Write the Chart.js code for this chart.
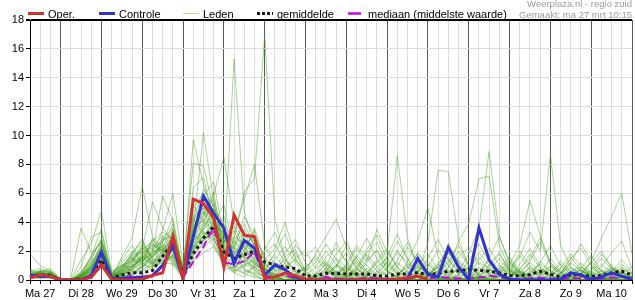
<!DOCTYPE html>
<html><head><meta charset="utf-8">
<script src="https://cdn.jsdelivr.net/npm/chart.js@4.4.1/dist/chart.umd.min.js"></script>
<style>html,body{margin:0;padding:0;background:#fff}#wrap{position:relative;width:635px;height:300px}</style>
</head><body><div id="wrap"><canvas id="c"></canvas></div>
<script>
// Day names (tick labels), one per calendar day; series start Ma 27 06:00, 6-hourly
const dayNames = ['Ma 27','Di 28','Wo 29','Do 30','Vr 31','Za 1','Zo 2','Ma 3','Di 4','Wo 5','Do 6','Vr 7','Za 8','Zo 9','Ma 10','Di 11'];
const hourSteps = ['00','06','12','18'];
const yTickValues = [0,2,4,6,8,10,12,14,16,18];

const oper = [0.15,0.35,0.25, 0.02,0,0,0.2, 1.05,0.05,0,0, 0.05,0.3,0.5,3.05, 0.05,5.6,5.3,4.3, 0.9,4.5,3.1,3.0, 0.1,0.2,0.5,0.3, 0.05,0,0,0, 0,0,0,0, 0,0.05,0.15,0.25, 0.05,null,null,null, null,null,null,null, null,null,null,null, null,null,null,null, null,null,null,null, null];
const controle = [0.35,0.25,0.25, 0.02,0,0,0.3, 1.95,0.1,0.1,0.15, 0.2,0.3,1.0,2.4, 0.1,3.0,5.8,4.6, 3.6,1.15,2.75,2.2, 0.35,1.05,0.7,0.2, 0,0,0,0, 0,0,0,0, 0,0.05,0.1,1.5, 0.4,0.2,2.25,0.9, 0.05,3.6,1.4,0.4, 0.05,0,0,0, 0,0.05,0.5,0.35, 0.05,0.2,0.5,0.25, 0.05];
const gemiddelde = [0.25,0.35,0.3, 0.02,0,0.05,0.25, 1.4,0.1,0.35,0.5, 0.5,0.65,1.65,2.5, 0.4,1.8,2.9,3.7, 1.95,1.5,1.75,2.0, 1.25,1.05,0.9,0.8, 0.27,0.27,0.47,0.45, 0.42,0.42,0.42,0.3, 0.27,0.42,0.42,0.5, 0.4,0.45,0.6,0.62, 0.72,0.68,0.6,0.5, 0.3,0.3,0.38,0.6, 0.4,0.2,0.38,0.35, 0.25,0.32,0.48,0.62, 0.35];
const mediaan = [0.15,0.3,0.2, 0,0,0,0.15, 1.0,0.05,0.1,0.3, 0.15,0.25,1.05,2.3, 0.2,1.25,2.3,3.6, 1.2,1.1,1.3,1.95, 0.2,0.3,0.35,0.1, 0,0,0.2,0.1, 0.05,0.05,0.15,0.1, 0.05,0.05,0.1,0.2, 0.1,0.2,0.15,0.1, 0.1,0.15,0.3,0.2, 0.05,0.05,0.1,0.15, 0.1,0.05,0.15,0.1, 0.05,0.1,0.15,0.2, 0.1];

const lid01 = [0.3,0.5,0.4, 0,0,0.2,0.8, 2.1,0.2,0.4,0.9, 1.5,2.2,3.1,2.4, 0.3,4.1,5.2,3.8, 2.2,1.4,2.6,1.8, 0.9,1.2,0.6,0.3, 0,0.2,0.8,0.4, 0.1,0,0.3,0.2, 0,0.4,0.9,0.5, 0.2,0.6,0.3,0.1, 0.5,1.2,0.8,0.3, 0,0.2,0.6,0.3, 0.1,0,0.4,0.2, 0,0.3,0.8,0.5, 0.2];
const lid02 = [1.8,1.0,0.6, 0,0,0,0.3, 1.2,0.1,0.6,1.4, 2.0,1.1,1.8,3.2, 0.8,2.8,4.5,5.6, 3.1,2.0,1.2,0.9, 0.4,0.2,0,0, 0,0,0.3,1.1, 0.6,0.2,0,0, 0,0,0.2,0.6, 1.1,0.4,0,0, 0,0.3,0.9,1.8, 0.7,0.2,0,0, 0,0.5,1.2,0.6, 0.2,0,0,0.3, 0.1];
const lid03 = [0.4,0.7,0.5, 0,0.1,3.6,1.9, 2.6,0.3,0.2,0.5, 0.9,1.6,2.4,1.7, 0.1,3.3,4.4,6.1, 1.8,0.6,2.1,3.4, 1.2,0.4,0.2,0, 0,0,0,0.2, 0.5,1.3,0.4,0, 0,0,0,0.3, 0.6,0.2,0,0.4, 1.0,0.3,0,0, 0,0,0.3,0.8, 0.4,0,0,0, 0.2,0.6,0.3,0, 0];
const lid04 = [0.2,0.4,0.3, 0,0,0.9,3.0, 3.3,0.4,1.1,0.6, 0.4,0.8,2.9,3.6, 0.5,6.4,7.1,4.2, 0.7,0.9,3.5,2.4, 0.3,0.8,1.4,0.6, 0,0.4,1.6,2.2, 1.3,0.5,0.1,0, 0,0.2,0.7,1.9, 0.8,0.3,0.1,0, 0,0,0.2,0.5, 0.9,0.4,0,0, 0,0,0.1,0.4, 1.3,0.6,0.2,0, 0];
const lid05 = [0.1,0.3,0.2, 0,0,1.4,2.5, 4.8,0.5,0.3,0.2, 1.1,2.8,1.9,1.2, 0.2,2.4,3.6,4.9, 3.9,2.8,1.6,0.8, 0.2,0,0,0.4, 0.9,0.3,0,0, 0,0.6,1.8,0.9, 0.3,0,0,0, 0.2,1.0,2.3,1.2, 0.4,0.1,0,0, 0.3,0.8,0.2,0, 0,0.4,1.6,0.7, 0.2,0,0,0, 0];
const lid06 = [0.5,0.6,0.8, 0.1,0,0.5,1.6, 3.6,0.2,0.8,1.9, 2.7,1.4,0.9,2.1, 0.6,3.9,6.3,5.1, 2.6,3.4,1.9,1.1, 0.6,1.9,3.2,1.4, 0.5,0.1,0,0, 0,0,0.4,1.2, 2.0,0.9,0.3,0, 0,0.2,0,0, 0.3,0.9,0.4,0.1, 0,0,0.5,1.1, 0.6,0.2,0,0, 0,0,0.3,0.9, 0.4];
const lid07 = [0.2,0.2,0.4, 0,0,0.2,0.6, 1.5,0.1,1.6,2.9, 6.5,3.0,2.2,1.0, 0.1,1.9,2.8,3.3, 4.4,1.6,0.9,2.6, 0.5,0.2,0,0, 0,0,0,0, 0.2,0.7,2.1,3.1, 1.4,0.3,0,0, 0,0,0.3,0.8, 0.4,0,0,0.6, 1.4,0.5,0,0, 0,0,0.2,0.4, 0.9,0.3,0,0, 0];
const lid08 = [0.6,0.4,0.3, 0,0,0,0.4, 2.4,0.3,0.5,1.2, 2.2,5.4,3.6,2.7, 0.9,5.2,4.0,2.9, 1.3,0.5,0.2,1.0, 2.1,3.3,1.5,0.6, 0.1,0,0,0.5, 1.0,0.4,0,0, 0,0,0,0, 0.3,0.9,1.6,0.7, 0.2,0,0,0, 0,0.4,1.3,2.6, 1.1,0.3,0,0, 0,0.2,0.7,0.3, 0];
const lid09 = [0.3,0.2,0.6, 0,0,0.3,1.1, 1.8,0.2,0.4,0.7, 1.3,2.0,5.8,4.1, 0.3,2.2,3.1,3.9, 5.2,2.1,4.4,3.0, 1.6,0.7,0.3,0, 0,0,0.2,0.9, 2.4,1.5,0.6,0.2, 0,0.3,1.1,0.5, 0,0,0,0.2, 0.6,1.9,1.0,0.3, 0,0,0,0.3, 0.7,0.2,0,0.5, 1.2,0.4,0,0, 0];
const lid10 = [0.1,0.5,0.7, 0,0,0.6,1.4, 2.9,0.6,0.9,1.5, 0.8,1.9,3.4,6.0, 1.1,4.6,5.8,6.8, 3.0,0.9,1.3,2.0, 0.8,0.3,0.9,1.9, 0.6,0.2,0,0, 0,0,0,0.3, 0.8,2.1,0.9,0.3, 0,0,0.5,1.4, 0.7,0.2,0,0, 0.2,0.6,0.3,0, 0,0,0,0.2, 0.5,1.5,0.8,0.2, 0];
const lid11 = [0.4,0.3,0.2, 0,0,0.1,0.9, 1.9,0.1,0.3,0.8, 1.6,2.5,2.0,3.0, 0.4,9.7,6.6,4.4, 2.3,1.2,0.6,0.4, 0,0,0,0.3, 0.8,1.7,0.9,0.2, 0,0,0,0.2, 0.6,0.2,0,0, 0,0.4,1.2,2.4, 1.0,0.3,0,0, 0,0,0.2,0.7, 0.3,0,0,0, 0,0.3,0.9,0.4, 0];
const lid12 = [0.2,0.6,0.4, 0,0,0.4,1.7, 2.7,0.2,0.2,0.4, 0.7,1.2,1.6,2.2, 0.2,3.5,10.2,5.5, 1.5,2.4,3.3,1.6, 0.4,0,0,0, 0,0.3,1.2,0.6, 0.2,0,0.2,0.9, 1.5,0.6,0.2,0, 0,0,0,0, 0.2,0.5,1.4,0.6, 0.1,0,0,0.4, 1.0,0.5,0.1,0, 0,0.3,0.7,0.2, 0];
const lid13 = [0.3,0.4,0.5, 0,0,0.2,1.0, 2.2,0.3,0.6,1.0, 1.9,2.3,2.6,4.3, 0.7,8.1,7.9,4.9, 2.9,3.7,2.2,1.3, 0.5,1.1,0.4,0, 0,0,0.5,1.5, 0.9,0.2,0,0, 0,0.3,0.6,0.2, 0,0.6,1.9,1.1, 0.3,0,0,0.2, 0.7,0.3,0,0, 0,0.2,0.6,0.9, 0.3,0,0,0.2, 0.5];
const lid14 = [0.7,0.5,0.3, 0,0,0,0.5, 1.3,0.4,1.2,2.0, 1.2,0.7,1.4,2.6, 0.3,2.7,3.9,5.9, 8.5,4.0,2.7,1.9, 0.7,0.2,0,0, 0,0,0,0, 0.3,0.8,0.4,0, 0,0,0.4,1.4, 0.6,0.2,0,0, 0,0.3,0.7,0.3, 0,0,0,0, 0.4,1.1,0.5,0.2, 0,0,0.3,0.6, 0.2];
const lid15 = [0.2,0.3,0.4, 0,0,0.3,0.7, 1.6,0.2,0.2,0.9, 1.4,1.8,2.4,1.9, 0.2,3.0,5.0,4.6, 2.0,15.3,4.8,2.2, 0.9,0.3,0,0, 0,0.2,0.8,2.6, 1.2,0.3,0,0, 0,0,0,0.2, 0.5,0.2,0,0, 0,0,0.4,1.0, 0.5,0.1,0,0, 0,0,0,0.3, 0.6,0.2,0,0, 0];
const lid16 = [0.3,0.6,0.6, 0.1,0,0.4,0.8, 1.0,0.1,0.5,1.3, 2.4,1.5,1.1,1.7, 0.5,1.8,2.5,3.1, 2.7,3.2,5.6,8.0, 2.4,1.0,0.3,0, 0,0,0,0.4, 0.8,0.3,0,0.6, 1.6,3.2,1.4,0.5, 0.2,0,0,0.3, 0.9,0.4,0,0, 0,0.3,0.8,0.4, 0,0,0,0, 0.2,0.7,0.3,0, 0];
const lid17 = [0.1,0.2,0.3, 0,0,0.1,0.4, 0.9,0.2,0.7,1.6, 1.0,0.9,1.5,2.1, 0.6,2.0,3.4,2.6, 1.1,2.9,6.1,7.0, 17.0,4.2,1.5,0.5, 0,0,0.3,0.9, 1.9,0.8,0.2,0, 0,0,0,0, 0.3,1.1,0.5,0, 0,0,0.2,0.6, 1.2,0.5,0,0, 0.3,0.8,0.3,0, 0,0,0.2,0.5, 0.2];
const lid18 = [0.5,0.3,0.2, 0,0,0.2,0.6, 1.7,0.3,0.9,1.7, 2.1,2.6,1.7,2.9, 0.3,3.7,4.8,3.5, 1.7,0.8,1.8,3.6, 1.4,2.2,4.0,1.6, 0.4,0,0,0, 0,0.2,0.8,0.3, 0,0,0,0.5, 1.3,0.5,0,0, 0,0,0,0.3, 0.8,1.7,0.7,0.2, 0,0,0.4,1.2, 0.5,0.1,0,0, 0];
const lid19 = [0.3,0.4,0.2, 0,0,0.5,1.3, 2.0,0.2,0.4,0.6, 1.7,1.3,2.0,1.5, 0.4,2.9,4.1,5.3, 2.5,1.9,0.7,0.5, 0.2,0.6,1.6,2.1, 0.6,1.8,3.0,4.2, 2.3,0.8,0.2,0, 0,0,0.5,1.0, 0.4,0,0,0, 0,0.2,0.6,1.5, 0.6,0.2,0,0, 0,0,0.3,0.7, 0.3,0,0,0, 0];
const lid20 = [0.2,0.3,0.5, 0,0,0.1,0.5, 1.4,0.1,0.3,1.1, 0.6,1.0,2.1,2.8, 0.8,2.3,3.0,4.0, 1.4,2.6,3.9,2.3, 0.8,0.2,0,0, 0,0,0,0.3, 0.9,2.2,1.3,3.5, 1.9,8.6,2.9,0.9, 0.3,0,0.2,0.8, 0.4,0,0,0, 0.2,0.6,0.2,0, 0,0,0.2,0.6, 0.3,0,0,0.4, 0.9];
const lid21 = [0.4,0.5,0.4, 0,0,0.3,1.2, 2.3,0.4,1.4,2.4, 1.1,1.6,3.0,2.0, 0.5,3.2,4.7,3.0, 1.9,1.0,0.4,0.2, 0,0,0.2,0.7, 0.2,0,0,0, 0,0.4,1.4,2.0, 0.7,0.2,0,0.4, 2.6,7.6,7.5,2.8, 1.0,0.3,0,0, 0,0,0.2,0.5, 0.2,0,0,0, 0,0.4,1.1,0.4, 0];
const lid22 = [0.3,0.2,0.1, 0,0,0.1,0.3, 1.1,0.2,0.4,0.8, 1.8,2.2,1.3,1.6, 0.2,1.6,2.6,3.7, 3.3,1.5,2.4,1.4, 0.3,0,0,0, 0,0,0.4,1.0, 0.5,0,0,0, 0.3,0.9,2.3,1.1, 0.4,0.2,0.9,2.7, 3.9,7.0,7.2,2.4, 0.8,0.3,0,0, 0,0.2,0.8,0.3, 0,0,0,0.2, 0.1];
const lid23 = [0.6,0.8,0.5, 0,0,0.4,0.9, 1.6,0.3,0.2,0.3, 0.9,1.4,2.7,3.3, 0.9,4.3,3.2,2.4, 1.2,0.6,1.1,0.7, 0.2,0.5,0.3,0, 0,0.3,1.1,0.5, 0,0,0,0.4, 1.2,0.5,0,0, 0,0.3,1.4,0.6, 1.8,3.6,8.9,3.0, 1.1,0.4,0,0, 0,0,0.3,0.9, 0.4,0,0,0, 0];
const lid24 = [0.2,0.4,0.3, 0,0,0.2,0.7, 1.9,0.2,0.6,1.4, 1.5,1.9,2.3,1.3, 0.1,2.5,3.3,2.8, 1.6,2.3,1.4,0.9, 0.3,0.1,0,0, 0,0,0,0.2, 0.7,1.5,0.6,0.2, 0,0,0,0, 0.2,0.6,0.2,0, 0,0,0.3,0.8, 0.4,1.6,3.3,2.0, 8.7,2.4,0.9,0.3, 0,0,0.2,0.5, 0.2];
const lid25 = [0.4,0.3,0.6, 0,0,0,0.4, 1.2,0.1,0.9,1.8, 2.9,1.2,0.8,1.8, 0.4,2.1,3.8,4.5, 2.1,1.7,3.0,2.7, 0.6,0.3,0,0, 0,0,0.2,0.6, 0.3,0,0,0, 0,0,0.3,0.9, 0.5,0.2,0,0, 0.2,0.7,0.3,0, 0,0,0.4,1.3, 0.6,0.3,1.2,2.5, 1.3,2.9,4.4,6.0, 1.8];
const lid26 = [0.1,0.2,0.2, 0,0,0.2,0.8, 2.5,0.3,0.3,0.7, 1.2,2.9,2.0,3.5, 0.6,3.1,2.7,3.3, 2.8,1.3,0.8,0.3, 0,0,0,0, 0,0.2,0.6,0.3, 0,0,0.3,1.3, 0.6,0.2,1.3,2.8, 5.0,1.6,0.6,0.2, 0,0,0,0, 0.2,0.7,1.8,0.8, 0.3,0,0,0, 0,0,0.3,0.8, 0.4];
const lid27 = [0.3,0.5,0.3, 0,0,0.3,1.0, 1.5,0.2,0.5,1.0, 1.7,0.9,1.6,2.3, 0.3,2.6,3.5,4.1, 2.4,2.0,1.6,1.2, 0.7,0.4,0,0, 0,0,0,0, 0.2,0.5,0.2,0, 0,0,0,0.2, 0.6,0.3,0,0, 0,0,0,0.4, 1.1,2.4,5.5,3.1, 1.2,0.5,0.2,0, 0,0,0,0.3, 0.2];
const lid28 = [0.2,0.1,0.2, 0,0,0.1,0.5, 1.0,0.1,0.2,0.5, 1.0,1.7,2.2,1.4, 0.2,1.4,2.2,2.9, 1.2,0.7,0.5,0.9, 0.4,0.1,0,0, 0,0,0,0, 0,0,0,0, 0,0,0,0.2, 0.4,0.1,0,0, 0,0,0.1,0.3, 0.2,0,0,0, 0,0,0,0.1, 0.3,0.1,0,0, 0];
const lid29 = [0.5,0.4,0.4, 0,0,0.4,1.5, 2.8,0.5,1.0,0.9, 1.4,1.1,1.9,2.5, 0.7,5.0,6.0,4.8, 3.5,2.5,1.5,0.6, 0.2,0,0,0, 0,0,0,0.1, 0.3,0.1,0,0, 0,0,0,0, 0,0,0.1,0.4, 0.2,0,0,0, 0,0,0.1,0.2, 0.1,0,0,0, 0,0,0,0.2, 0.1];
const lid30 = [0.3,0.3,0.5, 0,0,0.2,0.6, 1.3,0.3,0.7,1.2, 2.3,1.0,1.2,1.1, 0.5,1.3,1.9,2.3, 1.0,0.5,1.0,1.4, 0.5,0.2,0,0, 0,0,0,0, 0,0,0,0.1, 0.2,0,0,0, 0,0,0,0, 0.1,0.2,0.1,0, 0,0,0,0, 0,0,0.2,0.4, 0.2,0,0,0, 0];
const lid31 = [0.2,0.4,0.3, 0,0,0.3,0.9, 1.7,0.2,0.5,0.8, 1.6,2.0,2.8,3.0, 0.4,3.4,4.2,3.2, 1.5,1.9,2.3,1.1, 0.6,1.4,2.3,1.2, 0.3,0.9,2.0,1.1, 0.4,1.6,2.9,1.5, 0.6,1.2,0.5,0.2, 0.9,2.1,1.0,0.4, 1.3,2.5,1.2,0.5, 0.2,1.1,2.2,0.9, 0.4,1.3,0.6,0.2, 0.7,1.8,0.9,0.3, 0.2];
const lid32 = [0.4,0.2,0.5, 0,0,0.2,0.7, 1.4,0.3,0.8,1.5, 1.9,2.4,2.0,2.6, 0.3,2.7,3.6,4.4, 2.8,1.8,1.2,2.1, 1.5,0.8,1.9,2.8, 1.2,0.4,0.6,1.8, 2.7,1.1,0.5,1.4, 2.2,0.8,0.3,1.0, 1.8,0.7,2.5,1.3, 0.5,0.2,1.1,1.9, 0.6,0.3,0.9,0.4, 1.5,0.6,0.2,0.8, 1.7,0.6,0.3,1.1, 0.5];
const lid33 = [0.3,0.6,0.4, 0,0,0.4,1.2, 2.0,0.4,1.0,1.3, 1.3,1.8,2.5,2.2, 0.5,2.3,3.1,3.6, 2.2,2.7,2.0,1.5, 1.9,2.5,1.1,0.4, 0.9,1.5,0.7,0.3, 1.1,2.4,1.6,0.6, 0.3,1.4,2.6,1.2, 0.4,0.9,0.3,1.6, 2.3,1.1,0.4,0.8, 1.6,0.6,0.2,1.2, 2.4,1.0,0.4,0.7, 0.3,0.9,1.9,2.7, 0.8];
const lid34 = [0.2,0.3,0.3, 0,0,0.1,0.6, 1.3,0.2,0.6,1.0, 1.5,1.2,1.7,2.4, 0.6,2.0,2.9,3.3, 1.8,1.1,2.6,2.9, 0.9,1.7,0.8,1.5, 2.0,0.8,1.3,0.5, 0.2,0.9,1.9,2.6, 1.0,0.4,0.9,1.8, 1.1,0.4,0.8,2.0, 1.0,0.4,1.5,3.0, 1.3,0.5,1.2,0.6, 0.3,0.8,1.8,1.0, 0.4,1.1,0.5,1.4, 0.6];
const lid35 = [0.6,0.5,0.4, 0,0,0.3,0.8, 1.6,0.3,0.7,1.6, 2.0,2.7,3.3,2.8, 0.8,3.6,5.4,4.0, 3.1,2.2,1.7,1.0, 0.7,0.3,1.2,2.4, 1.6,2.3,1.0,0.5, 0.9,0.3,1.2,2.1, 0.8,1.9,1.2,0.6, 1.5,2.8,1.4,0.5, 0.8,1.6,0.7,0.3, 0.5,2.0,1.0,0.4, 0.9,0.4,1.5,2.2, 1.0,0.4,0.8,0.3, 0.2];
const lid36 = [0.3,0.4,0.2, 0,0,0.2,1.0, 2.6,0.3,0.9,1.8, 2.5,1.6,2.2,3.9, 0.5,4.4,5.0,3.6, 2.0,3.0,2.5,1.7, 1.1,0.6,0.9,1.4, 0.6,1.2,2.5,1.4, 0.5,1.7,1.0,0.4, 1.3,2.7,1.5,0.7, 0.3,1.2,1.9,0.9, 0.4,1.4,2.2,1.0, 0.3,0.8,1.5,2.9, 1.2,0.5,0.9,0.4, 1.2,2.0,0.9,0.5, 0.3];
const leden = [lid01,lid02,lid03,lid04,lid05,lid06,lid07,lid08,lid09,lid10,lid11,lid12,lid13,lid14,lid15,lid16,lid17,lid18,lid19,lid20,lid21,lid22,lid23,lid24,lid25,lid26,lid27,lid28,lid29,lid30,lid31,lid32,lid33,lid34,lid35,lid36];

// category labels: 6-hourly steps from Ma 27 06:00
const timeLabels = [];
for (let i = 0; i < oper.length; i++) {
  const h = 6 + 6 * i;
  timeLabels.push(dayNames[Math.floor(h / 24)] + ' ' + hourSteps[(h % 24) / 6]);
}

const FONT = '"Liberation Sans", Arial, sans-serif';
const RED = '#d23232', BLUE = '#3232d2', MAG = '#cc00ee';

const datasets = [
  {label:'Oper.', data:oper, borderColor:RED, borderWidth:3},
  {label:'Controle', data:controle, borderColor:BLUE, borderWidth:3},
  {label:'mediaan', data:mediaan, borderColor:MAG, borderWidth:2, borderDash:[8,4]},
  {label:'gemiddelde', data:gemiddelde, borderColor:'#1a1a1a', borderWidth:3, borderDash:[3,3]},
];
leden.forEach((d, k) => datasets.push({label:'Lid ' + (k+1), data:d, borderColor:'rgba(65,155,25,0.45)', borderWidth:1}));

const legendPlugin = {
  id:'customLegend',
  afterDraw(chart){
    const c = chart.ctx;
    c.save();
    const items = [
      {x:28, t:'Oper.', col:RED, w:3, dash:[]},
      {x:99, t:'Controle', col:BLUE, w:3, dash:[]},
      {x:183, t:'Leden', col:'#b5d9a5', w:1, dash:[]},
      {x:257, t:'gemiddelde', col:'#1a1a1a', w:3, dash:[3,2]},
      {x:348, t:'mediaan (middelste waarde)', col:MAG, w:2.5, dash:[13,3,2,3]},
    ];
    c.font = '11px ' + FONT;
    c.textBaseline = 'alphabetic';
    items.forEach(it => {
      c.beginPath();
      c.setLineDash(it.dash);
      c.strokeStyle = it.col;
      c.lineWidth = it.w;
      c.moveTo(it.x, 13.5);
      c.lineTo(it.x + 16, 13.5);
      c.stroke();
      c.setLineDash([]);
      c.fillStyle = '#000';
      c.textAlign = 'left';
      c.fillText(it.t, it.x + 20, 17.5);
    });
    c.fillStyle = '#9a9a9a';
    c.font = '9.5px ' + FONT;
    c.textAlign = 'right';
    c.fillText('Weerplaza.nl - regio zuid', 632, 7);
    c.fillText('Gemaakt: ma 27 mrt 10:15', 632, 17.5);
    c.restore();
  }
};

new Chart(document.getElementById('c'), {
  type:'line',
  data:{labels:timeLabels, datasets},
  options:{
    responsive:true, maintainAspectRatio:false, animation:false,
    layout:{padding:{top:20, right:1, left:0, bottom:0}},
    elements:{point:{radius:0}, line:{tension:0}},
    plugins:{legend:{display:false}, tooltip:{enabled:false}},
    scales:{
      x:{
        type:'category',
        afterFit(s){ s.height = 20; },
        border:{color:'#000', width:1},
        grid:{
          color:(ctx)=>{ const i = ctx.index; return ((i - 3) % 4 === 0) ? '#5a5a5a' : '#dcdcdc'; },
          lineWidth:1, drawTicks:true, tickLength:4, tickColor:'#000'
        },
        ticks:{
          autoSkip:false, maxRotation:0, minRotation:0, padding:3, color:'#000',
          font:{family:FONT, size:11},
          callback:(v, i)=>{ const h = 6 + 6 * i; return (h % 24 === 12 && Math.floor(h/24) < 15) ? dayNames[Math.floor(h/24)] : ''; }
        }
      },
      y:{
        min:0, max:18,
        afterFit(s){ s.width = 30; },
        afterBuildTicks(s){ s.ticks = yTickValues.map(v => ({value:v})); },
        border:{color:'#000', width:1},
        grid:{
          color:(ctx)=> ctx.tick && ctx.tick.value === 18 ? '#000' : '#dcdcdc',
          lineWidth:(ctx)=> ctx.tick && ctx.tick.value === 18 ? 2 : 1,
          drawTicks:true, tickLength:4, tickColor:'#000'
        },
        ticks:{padding:2, color:'#000', font:{family:FONT, size:11}}
      }
    }
  },
  plugins:[legendPlugin]
});
</script>
</body></html>
